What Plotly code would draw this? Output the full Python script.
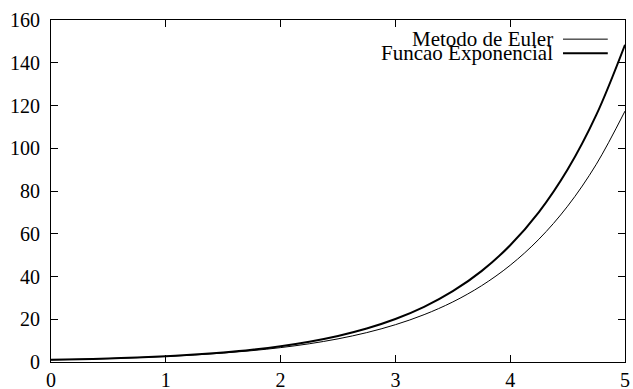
import plotly.graph_objects as go

x_vals = [0, 0.25, 0.5, 0.75, 1, 1.25, 1.5, 1.75, 2, 2.25, 2.5, 2.75, 3,
          3.25, 3.5, 3.75, 4, 4.25, 4.5, 4.75, 5]
euler_vals = [1.0, 1.27, 1.61, 2.05, 2.59, 3.29, 4.18, 5.30, 6.73, 8.54, 10.83,
              13.75, 17.45, 22.15, 28.10, 35.67, 45.26, 57.44, 72.89, 92.50, 117.39]
exp_vals = [1.0, 1.28, 1.65, 2.12, 2.72, 3.49, 4.48, 5.75, 7.39, 9.49, 12.18,
            15.64, 20.09, 25.79, 33.12, 42.52, 54.60, 70.11, 90.02, 115.58, 148.41]
legend_labels = ["Metodo de Euler", "Funcao Exponencial"]
x_ticks = [0, 1, 2, 3, 4, 5]
y_ticks = [0, 20, 40, 60, 80, 100, 120, 140, 160]

FONT = "Liberation Serif"

fig = go.Figure()
fig.add_trace(go.Scatter(x=x_vals, y=euler_vals, mode="lines", line=dict(color="black", width=1, shape="spline"),
                         name=legend_labels[0], showlegend=False))
fig.add_trace(go.Scatter(x=x_vals, y=exp_vals, mode="lines", line=dict(color="black", width=2, shape="spline"),
                         name=legend_labels[1], showlegend=False))

# gnuplot-style legend: text on the left, line sample on the right
legend_y = [0.944, 0.903]
widths = [1, 2]
for lbl, yy, w in zip(legend_labels, legend_y, widths):
    fig.add_annotation(x=0.878, y=yy, xref="paper", yref="paper", text=lbl, showarrow=False,
                       xanchor="right", yanchor="middle", font=dict(family=FONT, size=21, color="black"))
    fig.add_shape(type="line", xref="paper", yref="paper", x0=0.892, x1=0.970, y0=yy, y1=yy,
                  line=dict(color="black", width=w))

axis_common = dict(showline=True, linecolor="black", linewidth=1, mirror="allticks", ticks="inside",
                   ticklen=7, tickcolor="black", tickwidth=1, showgrid=False, zeroline=False,
                   automargin=False, tickfont=dict(family=FONT, size=20, color="black"))
fig.update_xaxes(range=[0, 5], tickvals=x_ticks, **axis_common)
fig.update_yaxes(range=[0, 160], tickvals=y_ticks, ticklabelstandoff=6, **axis_common)

fig.update_layout(width=633, height=389, margin=dict(l=51, r=8, t=20, b=27),
                  paper_bgcolor="white", plot_bgcolor="white", showlegend=False)
fig.write_html("out.html", config={"displayModeBar": False},
               post_script="document.body.style.margin='0';document.body.style.overflow='hidden';")
